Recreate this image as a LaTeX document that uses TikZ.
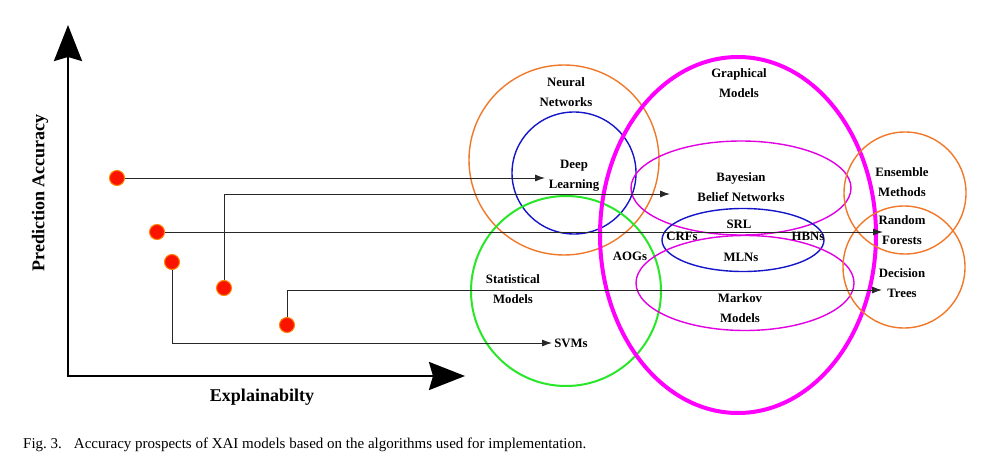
\documentclass[tikz,border=0pt]{standalone}
\usepackage{fontspec}
\setmainfont{Liberation Serif}
\usetikzlibrary{arrows.meta}
\definecolor{nnorange}{RGB}{240,120,40}
\definecolor{smgreen}{RGB}{40,230,40}
\definecolor{dlblue}{RGB}{20,20,200}
\definecolor{gmmag}{RGB}{255,0,255}
\definecolor{subx}{RGB}{225,0,225}
\definecolor{dotred}{RGB}{250,20,0}
\definecolor{dotedge}{RGB}{255,130,0}
\definecolor{connc}{RGB}{40,40,40}
\begin{document}
\begin{tikzpicture}[x=1pt,y=-1pt,
  lbl/.style={align=center,inner sep=0pt,font=\fontsize{12.8}{20}\selectfont\bfseries},
  axlbl/.style={inner sep=0pt,font=\fontsize{18}{22}\selectfont\bfseries},
  axis/.style={line width=2.6pt,-{Stealth[length=36pt,width=28pt,inset=4pt]}},
  conn/.style={draw=connc,line width=0.9pt,-{Latex[length=10pt,width=7pt]}},
  link/.style={draw=connc,line width=0.9pt},
  dot/.style={circle,minimum size=15pt,inner sep=0pt,fill=dotred,draw=dotedge,line width=1pt},
  thin/.style={line width=1.4pt},
  thick/.style={line width=4pt}]
\useasboundingbox (0,0) rectangle (987,465);
% axes
\coordinate (O) at (68,376);
\coordinate (ytip) at (68,25);
\coordinate (xtip) at (465,376);
\draw[axis] (O) -- (ytip);
\draw[axis] ([xshift=-1.3pt]O) -- (xtip);
\node[axlbl,rotate=90] (ylab) at (40,193) {Prediction Accuracy};
\node[axlbl] (xlab) at (262,397) {Explainabilty};
% circles and ellipses
\draw[nnorange,thin] (564,160) circle (95pt);
\draw[dlblue,thin] (574,173) ellipse [x radius=62pt,y radius=61pt];
\draw[smgreen,line width=2pt] (566,291) circle (95pt);
\draw[gmmag,thick] (738,235) ellipse [x radius=138pt,y radius=178pt];
\draw[subx,thin] (741,188) ellipse [x radius=110pt,y radius=47pt];
\draw[dlblue,thin] (743,240) ellipse [x radius=81pt,y radius=31.5pt];
\draw[subx,thin] (745,283) ellipse [x radius=109pt,y radius=47.5pt];
\draw[nnorange,thin] (905,193) circle (61pt);
\draw[nnorange,thin] (904,267) circle (61pt);
% dots
\node[dot] (d1) at (117,178) {};
\node[dot] (d2) at (157,232) {};
\node[dot] (d3) at (172,262) {};
\node[dot] (d4) at (224,288) {};
\node[dot] (d5) at (287,325) {};
% arrow tips
\coordinate (tDL) at (545,178);
\coordinate (tBBN) at (670,194);
\coordinate (tRF) at (883,232);
\coordinate (tDT) at (882,290);
\coordinate (tSVM) at (552,343);
\draw[conn] (d1) -- (tDL);
\draw[conn] (d4) |- (tBBN);
\draw[conn] (d2) -- (tRF);
\draw[conn] (d5) |- (tDT);
\draw[conn] (d3) |- (tSVM);
% labels
\node[lbl] (nn) at (566,92) {Neural\\Networks};
\node[lbl] (dl) at (574,176) {Deep\\Learning};
\node[lbl] (sm) at (513,289) {Statistical\\Models};
\node[lbl] (svm) at (571,343) {SVMs};
\node[lbl] (aog) at (630,256) {AOGs};
\node[lbl] (gm) at (739,83) {Graphical\\Models};
\node[lbl] (bbn) at (741,187) {Bayesian\\Belief Networks};
\node[lbl] (srl) at (739,224) {SRL};
\node[lbl] (crf) at (682,236) {CRFs};
\node[lbl] (hbn) at (808,236) {HBNs};
\node[lbl] (mln) at (741,257) {MLNs};
\node[lbl] (mm) at (740,308) {Markov\\Models};
\node[lbl] (em) at (902,182) {Ensemble\\Methods};
\node[lbl] (rf) at (902,230) {Random\\Forests};
\node[lbl] (dt) at (902,283) {Decision\\Trees};
% caption
\node[anchor=west,inner sep=0pt,font=\fontsize{15}{18}\selectfont] (cap) at (23,445) {Fig.~3.\hspace{0.8em}Accuracy prospects of XAI models based on the algorithms used for implementation.};
\end{tikzpicture}
\end{document}
